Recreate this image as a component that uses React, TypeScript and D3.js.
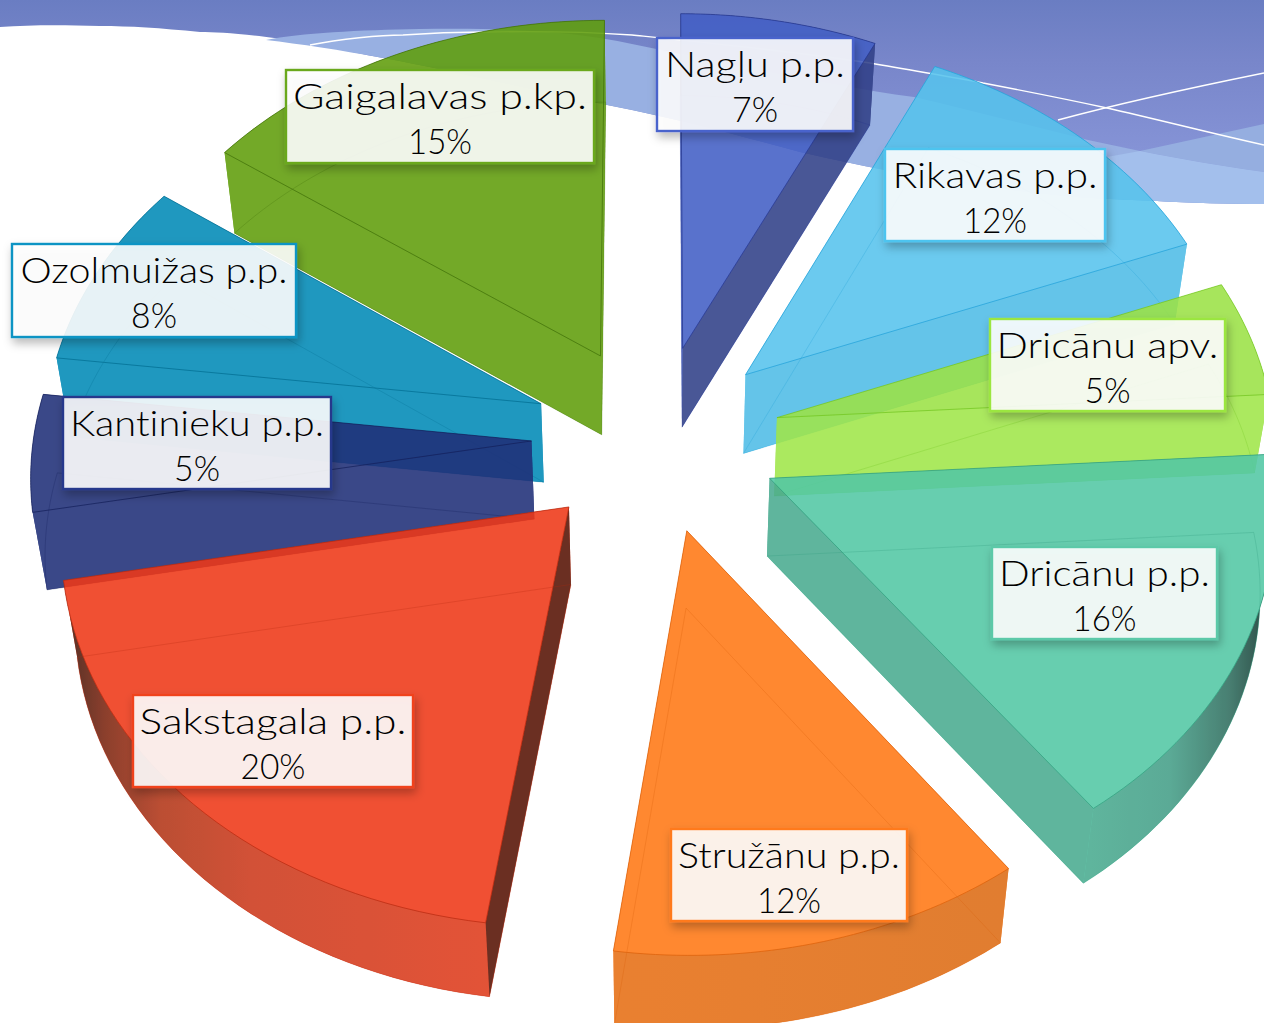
import React from "react";
import * as d3 from "d3";

const categories = ["Nagļu p.p.", "Rikavas p.p.", "Dricānu apv.", "Dricānu p.p.", "Stružānu p.p.", "Sakstagala p.p.", "Kantinieku p.p.", "Ozolmuižas p.p.", "Gaigalavas p.kp."];
const shares = [7, 12, 5, 16, 12.2, 19.8, 5, 8, 15];

const topColors = ["#435fc5", "#57c3ed", "#9ce246", "#53c8a5", "#ff7814", "#ef3817", "#1f2f78", "#018ab7", "#609e0b"];
const startWallColors = ["#435fc5", "#57c3ed", "#9ce246", "#49ab90", "#ff7814", "#571304", "#1f2f78", "#018ab7", "#609e0b"];
const endWallColors = ["#314088", "#4fbde6", "#a0e64a", "#49ab90", "#ff7814", "#ef3817", "#1f2f78", "#018ab7", "#609e0b"];
const outerStops: [number, string][][] = [
  [[680, "#314088"], [880, "#314088"]],
  [[930, "#4abbe6"], [1190, "#4abbe6"]],
  [[1220, "#94d640"], [1264, "#94d640"]],
  [[1090, "#49ab90"], [1170, "#459f88"], [1230, "#2f6d5e"], [1264, "#133a32"]],
  [[614, "#e76f14"], [1007, "#dd6c14"]],
  [[66, "#3e1408"], [105, "#7c2510"], [160, "#b23618"], [250, "#cc3a1c"], [490, "#e03c1c"]],
  [[30, "#1f2f78"], [50, "#1f2f78"]],
  [[58, "#018ab7"], [165, "#018ab7"]],
  [[222, "#609e0b"], [605, "#609e0b"]],
];
const lineColors = ["#24358c", "#1f9fd8", "#70c41e", "#2f9c7c", "#d85e08", "#b52a10", "#141f5a", "#016c90", "#3f6e08"];
const drawOrder = [0, 1, 2, 7, 8, 6, 3, 4, 5];

const labelBoxes: [number, number, number, number][] = [
  [657, 38, 196, 93], [885, 149, 220, 92], [990, 319, 235, 92], [992, 547, 225, 92],
  [671, 829, 236, 92], [133, 695, 280, 92], [63, 397, 268, 92], [12, 244, 284, 93], [286, 70, 308, 93],
];
const nameWidths = [180, 205, 222, 211, 222, 267, 254, 267, 294];
const pctWidths = [46, 64, 46, 64, 64, 65, 46, 46, 64];
const borderColors = ["#4a64cc", "#4dc4ef", "#9be63f", "#5cc9a8", "#ff7a1e", "#f0431f", "#27398c", "#0f94c4", "#6aa81e"];

const W = 1264, H = 1023;
const cx = 656, cy = 438, sx = 498, sy = 375, persp = 0.08, explode = 0.25;

function ground(X: number, Y: number): [number, number] {
  const w = 1 + persp * Y;
  return [cx + (sx * X) / w, cy - (sy * Y) / w];
}
function drop([x, y]: [number, number]): [number, number] {
  return [cx + (x - cx) * 0.977, y + 82 - 0.0088 * y];
}

const pieGen = d3.pie<number>().sort(null).value((d) => d);
const arcs = pieGen(shares);
const lineGen = d3.line();

function App() {
  const slices = arcs.map((a, i) => {
    const mid = (a.startAngle + a.endAngle) / 2;
    const ox = explode * Math.sin(mid), oy = explode * Math.cos(mid);
    const apex = ground(ox, oy);
    const ts = d3.range(0, 41).map((k) => a.startAngle + ((a.endAngle - a.startAngle) * k) / 40);
    const rim = ts.map((t) => ground(ox + Math.sin(t), oy + Math.cos(t)));
    const rimB = rim.map(drop);
    const apexB = drop(apex);
    const first = rim[0], last = rim[rim.length - 1];
    return {
      i,
      top: lineGen([apex, ...rim])! + "Z",
      bottom: lineGen([apexB, ...rimB])! + "Z",
      outer: lineGen([...rim, ...[...rimB].reverse()])! + "Z",
      startWall: lineGen([apex, first, rimB[0], apexB])! + "Z",
      endWall: lineGen([apex, last, rimB[rimB.length - 1], apexB])! + "Z",
      startVisible: Math.sin(a.startAngle) < 0,
      endVisible: Math.sin(a.endAngle) > 0,
    };
  });

  const labelStyle: React.CSSProperties = { fontVariantLigatures: "none" };

  return (
    <svg width={W} height={H} viewBox={`0 0 ${W} ${H}`} style={{ position: "absolute", left: 0, top: 0, display: "block", background: "#fff" }}>
      <defs>
        <linearGradient id="bgMain" gradientUnits="userSpaceOnUse" x1="0" y1="0" x2="0" y2="203">
          <stop offset="0" stopColor="#6a7dc2" />
          <stop offset="0.3" stopColor="#7886ca" />
          <stop offset="0.75" stopColor="#8593d6" />
        </linearGradient>
        {outerStops.map((st, i) => (
          <linearGradient key={i} id={`outer${i}`} gradientUnits="userSpaceOnUse" x1={st[0][0]} x2={st[st.length - 1][0]} y1={0} y2={0}>
            {st.map(([x, c], k) => (
              <stop key={k} offset={(x - st[0][0]) / (st[st.length - 1][0] - st[0][0])} stopColor={c} />
            ))}
          </linearGradient>
        ))}
        <filter id="shadow" x="-10%" y="-10%" width="120%" height="130%">
          <feDropShadow dx="2" dy="5" stdDeviation="5" floodColor="#000" floodOpacity="0.3" />
        </filter>
      </defs>

      {/* background wave */}
      <path d="M0,0H1264V204C1230,204 1190,203 1157,201C1110,199 1080,198 1048,194C950,184 880,170 800,152C740,136 690,122 632,110C540,92 460,72 383,58C340,50 320,45 302,42C250,34 220,32 200,32C160,28 130,26 100,26C60,25 30,25 0,27Z" fill="url(#bgMain)" />
      <path d="M266,40C300,33 360,30 420,29C500,28 570,30 632,44C720,62 820,84 914,97C970,110 1030,126 1088,140L1140,151C1180,159 1220,166 1264,172V204C1230,204 1190,203 1157,201C1110,199 1080,198 1048,194C950,184 880,170 800,152C740,136 690,122 632,110C540,92 460,72 383,58C340,50 300,44 266,40Z" fill="#98b0e2" />
      <path d="M1140,151L1264,124V172C1220,166 1180,159 1140,151Z" fill="#95aee0" />
      <path d="M1040,172L1107,157L1140,151C1180,159 1220,166 1264,172V204C1230,204 1190,203 1157,201C1110,199 1080,198 1048,194Z" fill="#a3bfec" />
      <path d="M310,45C340,39 380,35 403,35C430,33 460,32 484,32C540,31 590,32 632,35C720,44 800,52 870,63C920,72 960,78 983,83C1030,92 1070,100 1107,108C1160,120 1210,133 1264,145" fill="none" stroke="#fff" strokeWidth="1.4" />
      <path d="M1058,120C1110,106 1190,88 1264,73" fill="none" stroke="#fff" strokeWidth="1.4" />

      {drawOrder.map((idx) => {
        const s = slices[idx];
        return (
          <g key={idx}>
            <g opacity={0.88}>
              <path d={s.bottom} fill={topColors[idx]} />
              {!s.startVisible && <path d={s.startWall} fill={startWallColors[idx]} />}
              {!s.endVisible && <path d={s.endWall} fill={endWallColors[idx]} />}
              <path d={s.outer} fill={`url(#outer${idx})`} />
              {s.startVisible && <path d={s.startWall} fill={startWallColors[idx]} />}
              {s.endVisible && <path d={s.endWall} fill={endWallColors[idx]} />}
              <path d={s.top} fill={topColors[idx]} />
            </g>
            <path d={s.bottom} fill="none" stroke={lineColors[idx]} strokeOpacity={0.3} strokeWidth={0.9} />
            <path d={s.top} fill="none" stroke={lineColors[idx]} strokeOpacity={0.7} strokeWidth={1} />
          </g>
        );
      })}

      {categories.map((name, i) => {
        const [x, y, w, h] = labelBoxes[i];
        return (
          <g key={name}>
            <rect x={x} y={y} width={w} height={h} fill="#fff" fillOpacity={0.88} stroke={borderColors[i]} strokeWidth={2.4} filter="url(#shadow)" />
            <text x={x + w / 2} y={y + 39} textAnchor="middle" fontFamily="Lato, 'Open Sans', sans-serif" fontSize={35} fontWeight={300} fill="#000" textLength={nameWidths[i]} lengthAdjust="spacingAndGlyphs" style={labelStyle}>{name}</text>
            <text x={x + w / 2} y={y + 84} textAnchor="middle" fontFamily="Lato, 'Open Sans', sans-serif" fontSize={35} fontWeight={300} fill="#000" textLength={pctWidths[i]} lengthAdjust="spacingAndGlyphs" style={labelStyle}>{Math.round(shares[i])}%</text>
          </g>
        );
      })}
    </svg>
  );
}

export default App;
